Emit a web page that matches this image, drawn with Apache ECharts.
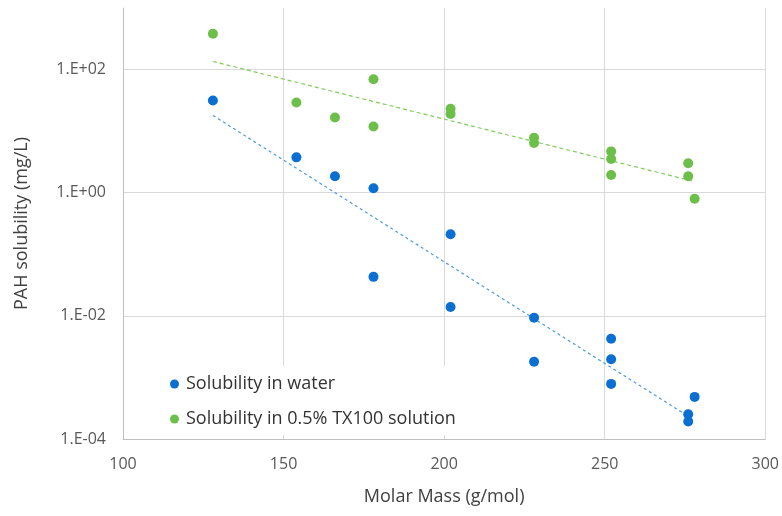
<!DOCTYPE html>
<html>
<head>
<meta charset="utf-8">
<script src="https://cdn.jsdelivr.net/npm/echarts@6/dist/echarts.min.js"></script>
<style>
  html, body { margin: 0; padding: 0; background: #fff; }
  #chart { width: 782px; height: 516px; }
</style>
</head>
<body>
<div id="chart"></div>
<script>
// molar mass (g/mol)
var waterMass = [128, 154, 166, 178, 178, 202, 202, 228, 228, 252, 252, 252, 276, 276, 278];
// solubility in water (mg/L)
var waterSol = [31.4, 3.75, 1.85, 1.18, 0.043, 0.212, 0.0139, 0.0093, 0.0018, 0.00426, 0.00197, 0.000785, 0.000253, 0.000192, 0.000483];

var txMass = [128, 154, 166, 178, 178, 202, 202, 228, 228, 252, 252, 252, 276, 276, 278];
// solubility in 0.5% TX100 solution (mg/L)
var txSol = [382, 29.2, 16.7, 69.6, 11.9, 23.1, 19.0, 7.8, 6.4, 4.69, 3.52, 1.94, 3.0, 1.85, 0.80];

var xTicks = [100, 150, 200, 250, 300];

var blue = '#0b6fd1', green = '#6cc04a';
var fontFam = '"Open Sans", "Noto Sans", sans-serif';

function pairs(xs, ys) {
    var out = [];
    for (var i = 0; i < xs.length; i++) out.push([xs[i], ys[i]]);
    return out;
}

// exponential trendline (least squares on log10 y), drawn over the data range
function expTrend(xs, ys) {
    var n = xs.length, mx = 0, my = 0;
    for (var i = 0; i < n; i++) { mx += xs[i]; my += Math.log10(ys[i]); }
    mx /= n; my /= n;
    var sxy = 0, sxx = 0;
    for (var j = 0; j < n; j++) {
        sxy += (xs[j] - mx) * (Math.log10(ys[j]) - my);
        sxx += (xs[j] - mx) * (xs[j] - mx);
    }
    var b = sxy / sxx;
    var x0 = Math.min.apply(null, xs), x1 = Math.max.apply(null, xs);
    return [[x0, Math.pow(10, my + b * (x0 - mx))], [x1, Math.pow(10, my + b * (x1 - mx))]];
}

function sciLabel(v) {
    var e = Math.round(Math.log10(v));
    var s = Math.abs(e) < 10 ? '0' + Math.abs(e) : '' + Math.abs(e);
    return '1.E' + (e < 0 ? '-' : '+') + s;
}

var myChart = echarts.init(document.getElementById('chart'));
var option = {
    backgroundColor: '#fff',
    animation: false,
    textStyle: { fontFamily: fontFam },
    grid: { left: 123, right: 16, top: 8, bottom: 77 },
    legend: {
        data: ['Solubility in water', 'Solubility in 0.5% TX100 solution'],
        orient: 'vertical',
        left: 162,
        top: 366,
        padding: [8, 10, 6, 8],
        itemGap: 15,
        itemWidth: 9,
        itemHeight: 9,
        icon: 'circle',
        backgroundColor: '#fff',
        textStyle: { fontSize: 18, lineHeight: 20, color: '#333333', fontFamily: fontFam, padding: [0, 0, 0, 2] }
    },
    xAxis: {
        type: 'value',
        min: xTicks[0],
        max: xTicks[xTicks.length - 1],
        interval: 50,
        name: 'Molar Mass (g/mol)',
        nameLocation: 'middle',
        nameGap: 49,
        nameTextStyle: { fontSize: 18, color: '#404040' },
        axisLine: { lineStyle: { color: '#bfbfbf', width: 1 } },
        axisTick: { show: false },
        axisLabel: { fontSize: 16, color: '#595959', margin: 17 },
        splitLine: { show: true, lineStyle: { color: '#d9d9d9', width: 1 } }
    },
    yAxis: {
        type: 'log',
        logBase: 100,
        min: 1e-4,
        max: 1e3,
        name: 'PAH solubility (mg/L)',
        nameLocation: 'middle',
        nameGap: 92,
        nameTextStyle: { fontSize: 18, color: '#404040' },
        axisLine: { show: true, lineStyle: { color: '#bfbfbf', width: 1 } },
        axisTick: { show: false },
        axisLabel: {
            fontSize: 16, color: '#595959', margin: 17, showMaxLabel: false,
            formatter: sciLabel
        },
        splitLine: { show: true, showMaxLine: false, lineStyle: { color: '#d9d9d9', width: 1 } }
    },
    series: [
        {
            name: 'Solubility in water',
            type: 'scatter',
            symbolSize: 10,
            itemStyle: { color: blue, opacity: 1 },
            data: pairs(waterMass, waterSol),
            z: 5
        },
        {
            name: 'Solubility in 0.5% TX100 solution',
            type: 'scatter',
            symbolSize: 10,
            itemStyle: { color: green, opacity: 1 },
            data: pairs(txMass, txSol),
            z: 5
        },
        {
            name: 'water trend',
            type: 'line',
            showSymbol: false,
            symbol: 'none',
            lineStyle: { color: '#4a9be3', width: 1.2, type: [3, 3] },
            data: expTrend(waterMass, waterSol),
            z: 3
        },
        {
            name: 'TX100 trend',
            type: 'line',
            showSymbol: false,
            symbol: 'none',
            lineStyle: { color: '#82cc5e', width: 1.2, type: [4, 3] },
            data: expTrend(txMass, txSol),
            z: 3
        }
    ]
};
myChart.setOption(option);
</script>
</body>
</html>
